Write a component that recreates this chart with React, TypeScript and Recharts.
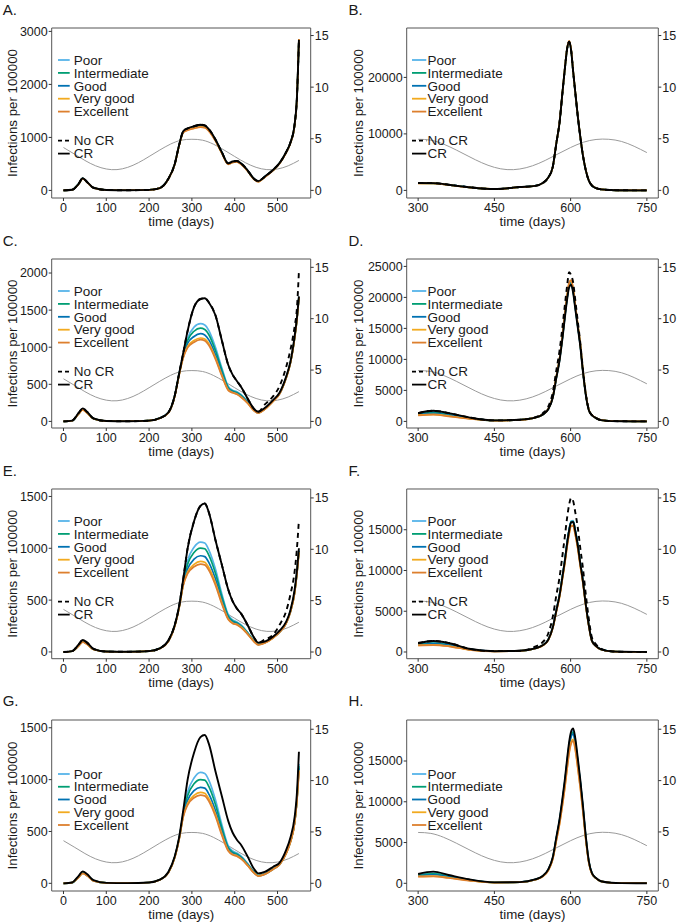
import React from "react";
import { LineChart, Line, XAxis, YAxis, ReferenceArea, Label } from "recharts";

const FONT = "'Liberation Sans', Arial, Helvetica, sans-serif";
const INK = "#1a1a1a";

const LEVELS = ["Poor", "Intermediate", "Good", "Very good", "Excellent"];
const LEVEL_COLORS = ["#56B4E9", "#009E73", "#0072B2", "#F2AA1F", "#DD7F2E"];

const LEFT_X_TICKS = [0, 100, 200, 300, 400, 500];
const RIGHT_X_TICKS = [300, 450, 600, 750];
const SEASON_TICKS = [0, 5, 10, 15];

// days used by the left column (A, C, E, G)
const LEFT_DAYS = [0, 20, 35, 45, 55, 70, 100, 150, 200, 225, 245, 260, 270, 280, 290, 305, 320, 330, 340, 355, 370, 385, 395, 405, 415, 430, 445, 455, 470, 490, 505, 520, 530, 540, 545, 550];
// days used by the right column (B, D, F, H)
const RIGHT_DAYS = [300, 330, 360, 400, 450, 500, 530, 545, 556, 565, 572, 578, 584, 589, 593, 597, 601, 605, 609, 614, 619, 624, 630, 636, 642, 650, 660, 680, 700, 750];

// seasonal curve (right axis)
const SEASON_LEFT_DAYS = [0, 25, 50, 75, 100, 125, 150, 175, 200, 225, 250, 275, 300, 325, 350, 375, 400, 425, 450, 475, 500, 525, 550];
const SEASON_LEFT = [4.15, 3.53, 2.9, 2.38, 2.07, 2.01, 2.23, 2.68, 3.28, 3.91, 4.48, 4.86, 4.95, 4.86, 4.48, 3.91, 3.28, 2.68, 2.23, 2.01, 2.07, 2.38, 2.9];
const SEASON_RIGHT_DAYS = [300, 325, 350, 375, 400, 425, 450, 475, 500, 525, 550, 575, 600, 625, 650, 675, 700, 725, 750];
const SEASON_RIGHT = [4.95, 4.86, 4.48, 3.91, 3.28, 2.68, 2.23, 2.01, 2.07, 2.38, 2.9, 3.53, 4.15, 4.66, 4.93, 4.95, 4.74, 4.27, 3.66];

// A
const A_CR = [0, 12, 120, 230, 160, 50, 8, 3, 10, 45, 220, 500, 850, 1120, 1170, 1210, 1240, 1225, 1150, 960, 720, 510, 545, 555, 510, 380, 220, 175, 260, 390, 520, 720, 900, 1250, 1700, 2840];
const A_POOR = [0, 12, 120, 230, 160, 50, 8, 3, 10, 45, 220, 500, 850, 1110, 1160, 1200, 1230, 1215, 1140, 955, 715, 505, 540, 550, 505, 378, 218, 172, 258, 388, 518, 718, 898, 1245, 1695, 2840];
const A_INTER = [0, 12, 120, 228, 158, 50, 8, 3, 10, 45, 220, 500, 848, 1108, 1155, 1195, 1225, 1210, 1135, 950, 712, 502, 538, 548, 502, 375, 216, 170, 256, 386, 516, 716, 896, 1243, 1693, 2845];
const A_GOOD = [0, 12, 118, 226, 157, 49, 8, 3, 10, 45, 218, 498, 846, 1105, 1150, 1190, 1220, 1205, 1130, 945, 708, 500, 535, 545, 500, 372, 214, 168, 254, 384, 514, 714, 894, 1240, 1690, 2848];
const A_VGOOD = [0, 12, 117, 224, 155, 48, 8, 3, 10, 44, 216, 495, 842, 1098, 1140, 1175, 1200, 1190, 1120, 938, 702, 495, 530, 540, 495, 368, 211, 165, 251, 381, 511, 711, 891, 1236, 1686, 2852];
const A_EXC = [0, 12, 116, 222, 154, 48, 8, 3, 10, 44, 215, 493, 840, 1095, 1135, 1170, 1195, 1185, 1115, 935, 700, 492, 528, 538, 492, 366, 210, 163, 249, 379, 509, 709, 889, 1233, 1683, 2858];

// B
const B_CR = [1300, 1280, 1000, 560, 240, 590, 800, 1300, 2270, 4200, 8400, 11840, 17360, 21830, 24990, 26300, 24800, 21000, 17500, 13200, 9500, 6300, 3500, 1700, 850, 400, 180, 60, 20, 5];
const B_POOR = [1290, 1270, 990, 555, 238, 585, 795, 1295, 2265, 4195, 8400, 11840, 17360, 21830, 24990, 26300, 24800, 21000, 17500, 13200, 9500, 6300, 3500, 1700, 850, 400, 180, 60, 20, 5];
const B_INTER = [1280, 1260, 980, 550, 236, 580, 790, 1290, 2260, 4190, 8400, 11850, 17380, 21850, 25010, 26320, 24820, 21010, 17510, 13210, 9510, 6310, 3500, 1700, 850, 400, 180, 60, 20, 5];
const B_GOOD = [1270, 1250, 975, 548, 234, 578, 788, 1288, 2258, 4190, 8410, 11860, 17400, 21870, 25030, 26350, 24850, 21030, 17530, 13230, 9520, 6320, 3510, 1705, 852, 400, 180, 60, 20, 5];
const B_VGOOD = [1260, 1240, 965, 545, 232, 575, 785, 1285, 2255, 4190, 8420, 11880, 17430, 21900, 25060, 26400, 24900, 21060, 17560, 13260, 9540, 6340, 3520, 1710, 855, 402, 181, 60, 20, 5];
const B_EXC = [1250, 1230, 960, 540, 230, 570, 780, 1280, 2250, 4190, 8430, 11900, 17460, 21930, 25100, 26450, 24950, 21100, 17600, 13300, 9560, 6360, 3530, 1715, 858, 404, 182, 61, 20, 5];

// C
const C_CR = [0, 10, 110, 175, 130, 40, 5, 2, 10, 45, 120, 350, 640, 930, 1220, 1540, 1650, 1660, 1600, 1430, 1090, 760, 630, 545, 465, 310, 170, 130, 180, 290, 390, 600, 800, 1150, 1380, 1685];
const C_NO_CR = [0, 10, 110, 175, 130, 40, 5, 2, 10, 45, 120, 350, 640, 930, 1220, 1540, 1650, 1660, 1600, 1430, 1090, 760, 630, 545, 465, 310, 170, 130, 225, 340, 480, 730, 960, 1280, 1500, 2025];
const C_POOR = [0, 9, 100, 160, 120, 37, 5, 2, 10, 45, 120, 350, 640, 900, 1120, 1270, 1317, 1300, 1220, 1000, 720, 470, 420, 400, 360, 270, 160, 120, 170, 280, 380, 590, 790, 1130, 1360, 1680];
const C_INTER = [0, 9, 100, 160, 120, 37, 5, 2, 10, 45, 120, 350, 635, 890, 1090, 1215, 1258, 1240, 1165, 955, 690, 455, 410, 390, 350, 262, 155, 118, 168, 278, 378, 588, 788, 1128, 1358, 1678];
const C_GOOD = [0, 9, 100, 158, 118, 36, 5, 2, 10, 44, 118, 345, 630, 880, 1050, 1145, 1182, 1165, 1095, 900, 655, 440, 400, 380, 340, 255, 150, 116, 166, 276, 376, 586, 786, 1126, 1356, 1676];
const C_VGOOD = [0, 9, 98, 156, 116, 35, 5, 2, 10, 43, 116, 340, 625, 870, 1010, 1090, 1124, 1110, 1045, 860, 625, 425, 390, 370, 330, 248, 147, 114, 164, 274, 374, 584, 784, 1124, 1354, 1674];
const C_EXC = [0, 9, 97, 155, 115, 35, 5, 2, 10, 43, 115, 338, 620, 860, 995, 1068, 1101, 1088, 1022, 840, 612, 418, 385, 365, 325, 245, 145, 112, 162, 272, 372, 582, 782, 1122, 1352, 1672];

// D
const D_CR = [1340, 1720, 1340, 645, 160, 270, 600, 1090, 1960, 3850, 7050, 9700, 13440, 16970, 19600, 21600, 22040, 20720, 18290, 15200, 12120, 8150, 4190, 1760, 990, 530, 200, 50, 20, 5];
const D_NO_CR = [1340, 1720, 1340, 645, 160, 270, 650, 1300, 2400, 4700, 8300, 11300, 15300, 19000, 21800, 24080, 23600, 22400, 19700, 16200, 12700, 8600, 4400, 1850, 1000, 520, 190, 50, 20, 5];
const D_POOR = [1250, 1550, 1200, 580, 150, 260, 600, 1100, 1980, 3890, 7120, 9800, 13570, 17140, 19800, 21820, 22260, 20930, 18470, 15350, 12240, 8230, 4230, 1780, 1000, 535, 200, 50, 20, 5];
const D_INTER = [1180, 1420, 1100, 540, 145, 255, 600, 1105, 1990, 3910, 7160, 9850, 13640, 17220, 19890, 21920, 22370, 21030, 18560, 15430, 12300, 8270, 4250, 1790, 1000, 540, 200, 50, 20, 5];
const D_GOOD = [1100, 1300, 1000, 500, 140, 250, 600, 1110, 2000, 3930, 7190, 9890, 13710, 17310, 19990, 22030, 22480, 21130, 18660, 15500, 12360, 8310, 4270, 1800, 1010, 540, 205, 50, 20, 5];
const D_VGOOD = [1000, 1120, 860, 440, 130, 245, 600, 1120, 2020, 3970, 7260, 9990, 13840, 17480, 20190, 22250, 22700, 21340, 18840, 15660, 12480, 8390, 4320, 1810, 1020, 545, 205, 50, 20, 5];
const D_EXC = [970, 1075, 800, 430, 130, 240, 600, 1130, 2030, 3980, 7300, 10040, 13910, 17560, 20290, 22360, 22810, 21450, 18930, 15730, 12540, 8440, 4340, 1820, 1025, 550, 207, 52, 20, 5];

// E
const E_CR = [0, 8, 70, 115, 90, 30, 4, 2, 8, 35, 110, 260, 440, 710, 1000, 1260, 1410, 1432, 1340, 1080, 840, 600, 490, 420, 370, 260, 140, 90, 100, 150, 205, 290, 400, 600, 770, 1000];
const E_NO_CR = [0, 8, 70, 115, 90, 30, 4, 2, 8, 35, 110, 260, 440, 710, 1000, 1260, 1410, 1432, 1340, 1080, 840, 600, 490, 420, 370, 260, 140, 90, 119, 167, 263, 392, 552, 777, 980, 1275];
const E_POOR = [0, 7, 60, 100, 78, 26, 4, 2, 8, 35, 105, 255, 430, 680, 880, 1010, 1060, 1050, 980, 800, 560, 360, 310, 290, 260, 190, 110, 75, 90, 140, 195, 280, 390, 580, 750, 980];
const E_INTER = [0, 7, 60, 100, 78, 26, 4, 2, 8, 35, 105, 255, 428, 670, 845, 960, 1002, 995, 930, 760, 535, 345, 300, 282, 252, 185, 107, 73, 89, 139, 194, 278, 388, 576, 746, 975];
const E_GOOD = [0, 7, 58, 98, 76, 25, 4, 2, 8, 34, 103, 252, 425, 660, 800, 895, 928, 920, 860, 705, 500, 330, 290, 274, 245, 180, 104, 71, 88, 138, 193, 276, 386, 573, 743, 970];
const E_VGOOD = [0, 7, 57, 96, 75, 25, 4, 2, 8, 34, 102, 250, 422, 650, 770, 845, 874, 866, 810, 665, 475, 318, 280, 266, 238, 175, 101, 70, 87, 137, 192, 275, 385, 570, 740, 965];
const E_EXC = [0, 7, 56, 95, 74, 24, 4, 2, 8, 33, 101, 248, 420, 645, 755, 822, 848, 840, 786, 645, 462, 312, 275, 262, 235, 172, 100, 68, 86, 136, 191, 274, 384, 568, 738, 960];

// F
const F_CR = [1100, 1350, 1100, 400, 100, 150, 440, 820, 1500, 3040, 5120, 6880, 9280, 11360, 13280, 14880, 15900, 15950, 14880, 13120, 10880, 8800, 5760, 3200, 1360, 720, 320, 80, 30, 5];
const F_NO_CR = [1100, 1350, 1100, 400, 100, 150, 650, 1200, 2270, 4350, 6990, 9070, 11900, 14360, 16440, 18050, 18900, 18520, 17200, 15310, 12760, 10400, 6990, 3970, 1760, 940, 380, 90, 30, 5];
const F_POOR = [1000, 1150, 950, 350, 95, 145, 440, 830, 1520, 3070, 5170, 6950, 9370, 11470, 13410, 15030, 16060, 16110, 15030, 13250, 10990, 8890, 5820, 3230, 1370, 730, 320, 80, 30, 5];
const F_INTER = [950, 1050, 880, 330, 92, 142, 440, 825, 1510, 3055, 5145, 6915, 9325, 11415, 13345, 14955, 15980, 16030, 14955, 13185, 10935, 8845, 5790, 3215, 1365, 725, 320, 80, 30, 5];
const F_GOOD = [900, 1000, 840, 310, 90, 140, 440, 820, 1500, 3040, 5120, 6880, 9280, 11360, 13280, 14880, 15900, 15950, 14880, 13120, 10880, 8800, 5760, 3200, 1360, 720, 320, 80, 30, 5];
const F_VGOOD = [820, 870, 720, 280, 85, 135, 430, 800, 1460, 2960, 4990, 6710, 9050, 11080, 12950, 14510, 15500, 15550, 14510, 12790, 10610, 8580, 5620, 3120, 1330, 700, 310, 78, 29, 5];
const F_EXC = [800, 850, 700, 270, 85, 135, 427, 795, 1455, 2950, 4970, 6670, 9000, 11020, 12880, 14430, 15420, 15470, 14430, 12730, 10550, 8540, 5590, 3100, 1320, 700, 310, 78, 29, 5];

// G
const G_CR = [0, 8, 70, 115, 90, 30, 4, 2, 8, 35, 110, 260, 440, 710, 1000, 1260, 1410, 1430, 1340, 1080, 840, 600, 490, 420, 370, 260, 140, 96, 110, 160, 200, 320, 440, 640, 850, 1269];
const G_POOR = [0, 7, 60, 100, 78, 26, 4, 2, 8, 35, 105, 255, 430, 680, 880, 1015, 1070, 1060, 990, 805, 565, 362, 312, 292, 262, 192, 112, 78, 92, 142, 187, 292, 402, 592, 792, 1150];
const G_INTER = [0, 7, 60, 100, 78, 26, 4, 2, 8, 35, 105, 255, 428, 670, 845, 960, 1000, 995, 930, 760, 535, 345, 300, 282, 252, 185, 107, 75, 90, 140, 185, 290, 400, 588, 786, 1130];
const G_GOOD = [0, 7, 58, 98, 76, 25, 4, 2, 8, 34, 103, 252, 425, 660, 800, 893, 925, 918, 858, 703, 500, 330, 290, 274, 245, 180, 104, 73, 88, 138, 183, 288, 398, 585, 782, 1110];
const G_VGOOD = [0, 7, 57, 96, 75, 25, 4, 2, 8, 34, 102, 250, 422, 650, 770, 848, 877, 869, 812, 667, 477, 318, 280, 266, 238, 175, 101, 72, 87, 137, 182, 286, 396, 582, 778, 1090];
const G_EXC = [0, 7, 56, 95, 74, 24, 4, 2, 8, 33, 101, 248, 420, 645, 755, 825, 851, 843, 789, 647, 463, 312, 275, 262, 235, 172, 100, 70, 86, 136, 181, 285, 395, 580, 775, 1080];

// H
const H_CR = [1140, 1430, 1020, 490, 120, 150, 470, 900, 1710, 3230, 5700, 7790, 10450, 12920, 15200, 17290, 18620, 19000, 17860, 15390, 12730, 9690, 5700, 2660, 1240, 650, 250, 70, 25, 5];
const H_POOR = [1050, 1250, 900, 440, 110, 145, 463, 887, 1684, 3182, 5615, 7673, 10293, 12726, 14972, 17031, 18341, 18715, 17592, 15159, 12539, 9545, 5615, 2620, 1221, 640, 246, 69, 25, 5];
const H_INTER = [1000, 1150, 850, 420, 105, 142, 458, 878, 1667, 3149, 5558, 7595, 10189, 12597, 14820, 16858, 18155, 18525, 17414, 15005, 12412, 9448, 5558, 2594, 1209, 634, 244, 68, 24, 5];
const H_GOOD = [950, 1050, 800, 400, 100, 140, 454, 869, 1650, 3117, 5501, 7517, 10084, 12468, 14668, 16685, 17968, 18335, 17235, 14851, 12284, 9351, 5501, 2567, 1197, 627, 241, 68, 24, 5];
const H_VGOOD = [850, 880, 680, 350, 95, 135, 437, 837, 1590, 3004, 5301, 7245, 9719, 12016, 14136, 16080, 17317, 17670, 16610, 14313, 11839, 9012, 5301, 2474, 1153, 605, 233, 65, 23, 5];
const H_EXC = [820, 860, 650, 340, 95, 135, 432, 828, 1573, 2972, 5244, 7167, 9614, 11886, 13984, 15907, 17130, 17480, 16431, 14159, 11712, 8915, 5244, 2447, 1141, 598, 230, 64, 23, 5];

// plot box per row: top edge and height in page pixels
const ROW_BOX = [
  { top: 28.3, h: 170 },
  { top: 259.3, h: 169 },
  { top: 489.3, h: 169.7 },
  { top: 720, h: 171 },
];

type PanelSpec = {
  letter: string;
  row: number;
  col: number;
  levels: number[][];
  cr: number[];
  noCr?: number[];
  showCrLegend: boolean;
  yDomain: [number, number];
  yTicks: number[];
  rDomain: [number, number];
};

const PANELS: PanelSpec[] = [
  { letter: "A.", row: 0, col: 0, levels: [A_POOR, A_INTER, A_GOOD, A_VGOOD, A_EXC], cr: A_CR, noCr: A_CR, showCrLegend: true, yDomain: [-143, 3064], yTicks: [0, 1000, 2000, 3000], rDomain: [-0.74, 15.73] },
  { letter: "B.", row: 0, col: 1, levels: [B_POOR, B_INTER, B_GOOD, B_VGOOD, B_EXC], cr: B_CR, noCr: B_CR, showCrLegend: true, yDomain: [-1345, 28743], yTicks: [0, 10000, 20000], rDomain: [-0.74, 15.73] },
  { letter: "C.", row: 1, col: 0, levels: [C_POOR, C_INTER, C_GOOD, C_VGOOD, C_EXC], cr: C_CR, noCr: C_NO_CR, showCrLegend: true, yDomain: [-89, 2189], yTicks: [0, 500, 1000, 1500, 2000], rDomain: [-0.64, 15.81] },
  { letter: "D.", row: 1, col: 1, levels: [D_POOR, D_INTER, D_GOOD, D_VGOOD, D_EXC], cr: D_CR, noCr: D_NO_CR, showCrLegend: true, yDomain: [-1065, 26194], yTicks: [0, 5000, 10000, 15000, 20000, 25000], rDomain: [-0.64, 15.81] },
  { letter: "E.", row: 2, col: 0, levels: [E_POOR, E_INTER, E_GOOD, E_VGOOD, E_EXC], cr: E_CR, noCr: E_NO_CR, showCrLegend: true, yDomain: [-65, 1572], yTicks: [0, 500, 1000, 1500], rDomain: [-0.65, 15.87] },
  { letter: "F.", row: 2, col: 1, levels: [F_POOR, F_INTER, F_GOOD, F_VGOOD, F_EXC], cr: F_CR, noCr: F_NO_CR, showCrLegend: true, yDomain: [-822, 20000], yTicks: [0, 5000, 10000, 15000], rDomain: [-0.65, 15.87] },
  { letter: "G.", row: 3, col: 0, levels: [G_POOR, G_INTER, G_GOOD, G_VGOOD, G_EXC], cr: G_CR, showCrLegend: false, yDomain: [-74, 1575], yTicks: [0, 500, 1000, 1500], rDomain: [-0.75, 15.9] },
  { letter: "H.", row: 3, col: 1, levels: [H_POOR, H_INTER, H_GOOD, H_VGOOD, H_EXC], cr: H_CR, showCrLegend: false, yDomain: [-944, 20030], yTicks: [0, 5000, 10000, 15000], rDomain: [-0.75, 15.9] },
];

const tickStyle = { fontSize: 12.5, fill: INK, fontFamily: FONT };
const titleStyle = { fontSize: 13.3, fill: INK, fontFamily: FONT, textAnchor: "middle" as const };

function PanelLegend({ withCr, keyW, textX }: { withCr: boolean; keyW: number; textX: number }) {
  const first = 7;
  const step = withCr ? 12.9 : 12.75;
  return (
    <svg width={130} height={110} style={{ position: "absolute", left: 0, top: 0, overflow: "visible" }}>
      {LEVELS.map((name, i) => (
        <g key={name}>
          <line x1={0} x2={keyW} y1={first + i * step} y2={first + i * step} stroke={LEVEL_COLORS[i]} strokeWidth={1.8} />
          <text x={textX} y={first + i * step} dy="0.35em" fontSize={13.5} fill={INK} fontFamily={FONT}>{name}</text>
        </g>
      ))}
      {withCr && (
        <g>
          <line x1={0} x2={keyW} y1={first + 80.7} y2={first + 80.7} stroke="#000" strokeWidth={1.8} strokeDasharray="4 3" />
          <text x={textX} y={first + 80.7} dy="0.35em" fontSize={13.5} fill={INK} fontFamily={FONT}>No CR</text>
          <line x1={0} x2={keyW} y1={first + 93.6} y2={first + 93.6} stroke="#000" strokeWidth={1.8} />
          <text x={textX} y={first + 93.6} dy="0.35em" fontSize={13.5} fill={INK} fontFamily={FONT}>CR</text>
        </g>
      )}
    </svg>
  );
}

function ChartPanel({ p }: { p: PanelSpec }) {
  const isLeft = p.col === 0;
  const box = ROW_BOX[p.row];
  const width = isLeft ? 340 : 338;
  const axisL = isLeft ? 51.7 : 66.7;
  const axisR = isLeft ? 29.3 : 19.7;
  const height = 28 + box.h + 32;
  const days = isLeft ? LEFT_DAYS : RIGHT_DAYS;
  const xDomain: [number, number] = isLeft ? [-27.5, 577.5] : [277.5, 772.5];
  const xTicks = isLeft ? LEFT_X_TICKS : RIGHT_X_TICKS;

  const data = days.map((day, i) => {
    const row: Record<string, number> = { day, cr: p.cr[i] };
    p.levels.forEach((s, k) => {
      row["l" + k] = s[i];
    });
    if (p.noCr) row.nocr = p.noCr[i];
    return row;
  });
  const seasonDays = isLeft ? SEASON_LEFT_DAYS : SEASON_RIGHT_DAYS;
  const seasonVals = isLeft ? SEASON_LEFT : SEASON_RIGHT;
  const season = seasonDays.map((day, i) => ({ day, v: seasonVals[i] }));

  const legendTop = 28 + (p.showCrLegend ? 32 : 54.3) - 7;
  const legendLeft = isLeft ? 58.3 : 71.7;
  const keyW = isLeft ? 11.7 : 14.3;
  const textX = isLeft ? 15.7 : 15.6;

  return (
    <div style={{ position: "absolute", left: isLeft ? 0 : 340, top: box.top - 28, width, height }}>
      <LineChart width={width} height={height} data={data} margin={{ top: 28, right: 0, bottom: 0, left: 0 }}>
        <XAxis
          dataKey="day"
          type="number"
          domain={xDomain}
          ticks={xTicks}
          interval={0}
          allowDataOverflow
          height={32}
          axisLine={false}
          tickSize={3}
          tickMargin={2}
          tickLine={{ stroke: "#333" }}
          tick={tickStyle}
        >
          <Label value="time (days)" position="insideBottom" offset={4} style={titleStyle} />
        </XAxis>
        <YAxis
          yAxisId="left"
          width={axisL}
          domain={p.yDomain}
          ticks={p.yTicks}
          interval={0}
          allowDataOverflow
          axisLine={false}
          tickSize={3}
          tickMargin={1}
          tickLine={{ stroke: "#333" }}
          tick={tickStyle}
        >
          <Label value="Infections per 100000" angle={-90} position="insideLeft" offset={isLeft ? 12 : 18} style={titleStyle} />
        </YAxis>
        <YAxis
          yAxisId="right"
          orientation="right"
          width={axisR}
          domain={p.rDomain}
          ticks={SEASON_TICKS}
          interval={0}
          allowDataOverflow
          axisLine={false}
          tickSize={3}
          tickMargin={1}
          tickLine={{ stroke: "#333" }}
          tick={tickStyle}
        />
        <Line yAxisId="right" data={season} dataKey="v" type="natural" stroke="#9a9a9a" strokeWidth={1} dot={false} activeDot={false} isAnimationActive={false} />
        {LEVELS.map((name, k) => (
          <Line key={name} yAxisId="left" dataKey={"l" + k} type="monotone" stroke={LEVEL_COLORS[k]} strokeWidth={1.7} dot={false} activeDot={false} isAnimationActive={false} />
        ))}
        <Line yAxisId="left" dataKey="cr" type="monotone" stroke="#000" strokeWidth={1.9} dot={false} activeDot={false} isAnimationActive={false} />
        {p.noCr && (
          <Line yAxisId="left" dataKey="nocr" type="monotone" stroke="#000" strokeWidth={1.9} strokeDasharray="5 4" dot={false} activeDot={false} isAnimationActive={false} />
        )}
        <ReferenceArea
          yAxisId="left"
          x1={xDomain[0]}
          x2={xDomain[1]}
          y1={p.yDomain[0]}
          y2={p.yDomain[1]}
          fill="none"
          stroke="#555"
          strokeWidth={1}
          ifOverflow="visible"
        />
      </LineChart>
      <div style={{ position: "absolute", left: legendLeft, top: legendTop, width: 130, height: 110 }}>
        <PanelLegend withCr={p.showCrLegend} keyW={keyW} textX={textX} />
      </div>
      <div style={{ position: "absolute", left: isLeft ? 2.7 : 8.5, top: 1.4, fontSize: 15, lineHeight: "16px", color: INK, fontFamily: FONT }}>
        {p.letter}
      </div>
    </div>
  );
}

export default function App() {
  return (
    <div style={{ position: "absolute", left: 0, top: 0, width: 678, height: 923, background: "#fff", fontFamily: FONT }}>
      {PANELS.map((p) => (
        <ChartPanel key={p.letter} p={p} />
      ))}
    </div>
  );
}
